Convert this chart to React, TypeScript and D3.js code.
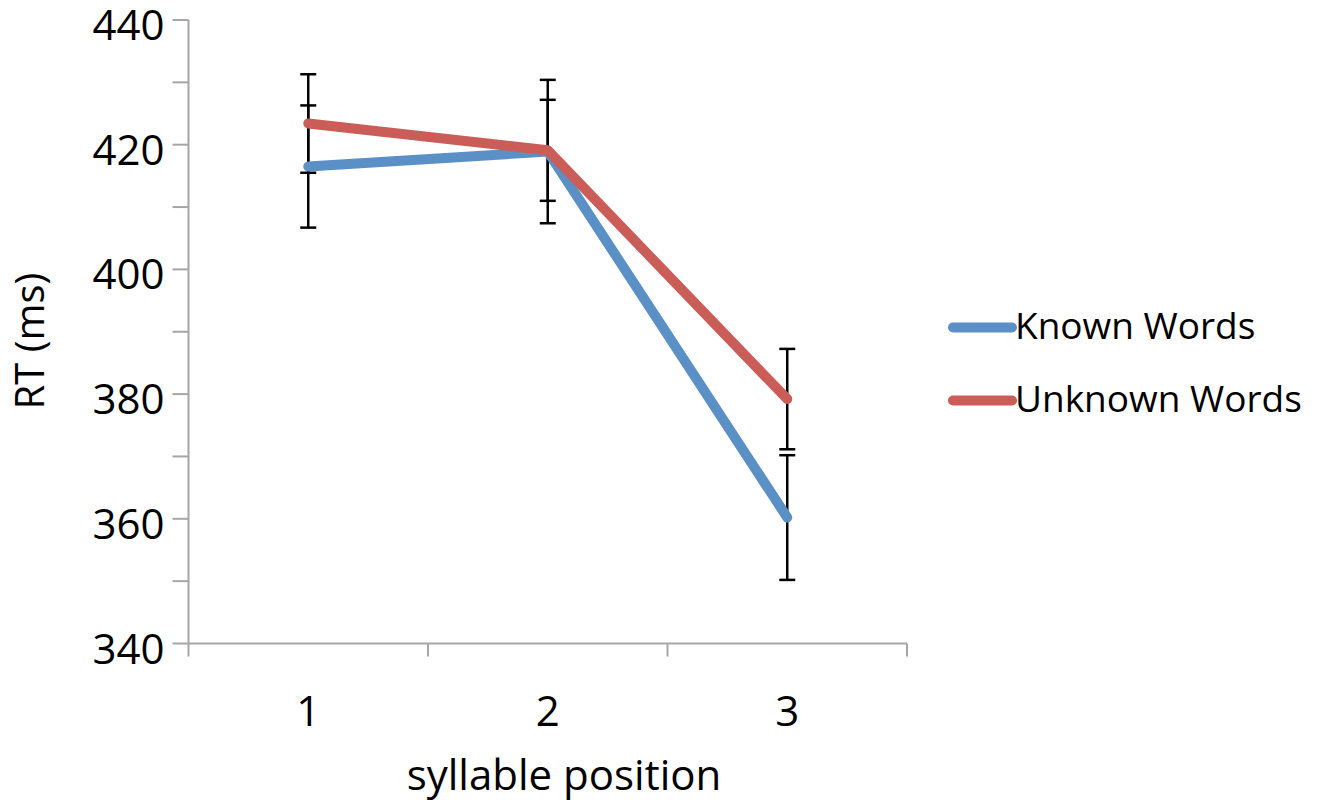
import React from "react";
import * as d3 from "d3";

const categories = ["1", "2", "3"];
const knownValues = [416.5, 418.9, 360.2];
const knownErrors = [9.8, 11.5, 10.0];
const unknownValues = [423.4, 419.1, 379.2];
const unknownErrors = [7.9, 8.1, 8.05];
const yTicksMajor = [340, 360, 380, 400, 420, 440];
const yTicksMinor = [350, 370, 390, 410, 430];
const seriesNames = ["Known Words", "Unknown Words"];
const seriesColors = ["#5B90C6", "#CB5D59"];

const W = 1323;
const H = 804;
const FONT = "'Open Sans', 'Liberation Sans', sans-serif";

export default function App() {
  const left = 188.5;
  const right = 907;
  const top = 20;
  const bottom = 643.5;

  const y = d3.scaleLinear().domain([340, 440]).range([bottom, top]);
  const x = d3.scaleBand<string>().domain(categories).range([left, right]).padding(0);
  const cx = (c: string) => (x(c) as number) + x.bandwidth() / 2;

  const series = [
    { name: seriesNames[0], values: knownValues, errors: knownErrors, color: seriesColors[0] },
    { name: seriesNames[1], values: unknownValues, errors: unknownErrors, color: seriesColors[1] },
  ];

  const line = d3
    .line<number>()
    .x((_, i) => cx(categories[i]))
    .y((d) => y(d));

  const boundaries = [...categories.map((c) => x(c) as number), right];
  const axisColor = "#A6A6A6";

  return (
    <svg
      width={W}
      height={H}
      style={{ position: "absolute", left: 0, top: 0, background: "#fff" }}
      fontFamily={FONT}
    >
      {/* Y axis */}
      <line x1={left} x2={left} y1={top} y2={bottom} stroke={axisColor} strokeWidth={2} />
      {[...yTicksMajor, ...yTicksMinor].map((t) => (
        <line key={"yt" + t} x1={left - 16} x2={left} y1={y(t)} y2={y(t)} stroke={axisColor} strokeWidth={2} />
      ))}
      {yTicksMajor.map((t) => (
        <text key={"yl" + t} x={left - 24} y={y(t) + 20} textAnchor="end" fontSize={42} fill="#000">
          {t}
        </text>
      ))}
      {/* X axis */}
      <line x1={left} x2={right} y1={bottom} y2={bottom} stroke={axisColor} strokeWidth={2} />
      {boundaries.map((b, i) => (
        <line key={"xt" + i} x1={b} x2={b} y1={bottom} y2={bottom + 13} stroke={axisColor} strokeWidth={2} />
      ))}
      {categories.map((c) => (
        <text key={"xl" + c} x={cx(c)} y={726} textAnchor="middle" fontSize={42} fill="#000">
          {c}
        </text>
      ))}
      <text x={564} y={790} textAnchor="middle" fontSize={42} fill="#000">
        syllable position
      </text>
      <text
        transform={`translate(44, ${341}) rotate(-90)`}
        textAnchor="middle"
        fontSize={40}
        fill="#000"
      >
        RT (ms)
      </text>

      {/* Error bars */}
      {series.map((s) =>
        s.values.map((v, i) => {
          const px = cx(categories[i]);
          const y1 = y(v + s.errors[i]);
          const y2 = y(v - s.errors[i]);
          return (
            <g key={s.name + "e" + i} stroke="#000" strokeWidth={2.5}>
              <line x1={px} x2={px} y1={y1} y2={y2} />
              <line x1={px - 8} x2={px + 8} y1={y1} y2={y1} />
              <line x1={px - 8} x2={px + 8} y1={y2} y2={y2} />
            </g>
          );
        })
      )}

      {/* Lines */}
      {series.map((s) => (
        <path
          key={s.name}
          d={line(s.values) || ""}
          fill="none"
          stroke={s.color}
          strokeWidth={10}
          strokeLinecap="round"
          strokeLinejoin="round"
        />
      ))}

      {/* Legend */}
      {series.map((s, i) => {
        const ly = 327.5 + i * 73;
        return (
          <g key={"lg" + i}>
            <line x1={953} x2={1012} y1={ly} y2={ly} stroke={s.color} strokeWidth={10} strokeLinecap="round" />
            <text x={1015} y={ly + 11} fontSize={37} fill="#000">
              {s.name}
            </text>
          </g>
        );
      })}
    </svg>
  );
}
